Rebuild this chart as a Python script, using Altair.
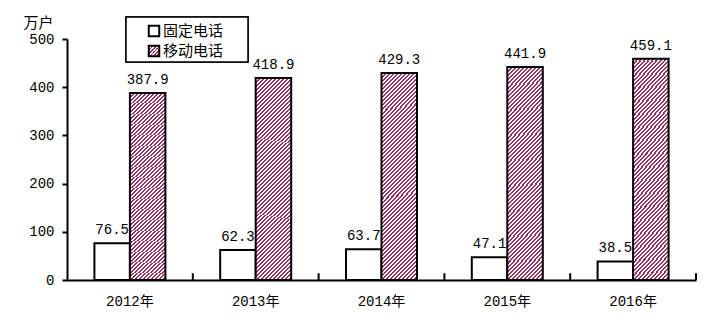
import altair as alt
import pandas as pd

years = ["2012年", "2013年", "2014年", "2015年", "2016年"]
series = ["固定电话", "移动电话"]
fixed_line = [76.5, 62.3, 63.7, 47.1, 38.5]
mobile = [387.9, 418.9, 429.3, 441.9, 459.1]
y_ticks = [0, 100, 200, 300, 400, 500]

rows = []
for i, yr in enumerate(years):
    rows.append({"year": yr, "series": series[0], "value": fixed_line[i]})
    rows.append({"year": yr, "series": series[1], "value": mobile[i]})
df = pd.DataFrame(rows)

PURPLE = "#993366"
W, H = 629, 241
NUM_FONT = "Liberation Mono, Noto Sans CJK SC"
CJK_FONT = "Noto Sans CJK SC"


def stripes(w, h, period=4.0):
    """Diagonal '/' hatch as a linear gradient in bounding-box units."""
    t = (w + h) / (w * w + h * h)
    n = int(round((w + h) / period))
    stops = []
    for i in range(n):
        a, m, b = i / n, (i + 0.5) / n, (i + 1) / n
        stops += [
            {"offset": a, "color": PURPLE},
            {"offset": m, "color": PURPLE},
            {"offset": m, "color": "white"},
            {"offset": b, "color": "white"},
        ]
    return {"gradient": "linear", "x1": 0, "y1": 0, "x2": w * t, "y2": h * t, "stops": stops}


bar_grad = stripes(35.5, 205)
sym_grad = stripes(11, 11)

x_enc = alt.X("year:O", sort=years, scale=alt.Scale(paddingInner=0, paddingOuter=0),
              axis=alt.Axis(title=None, labelAngle=0, ticks=False, tickSize=0, labelPadding=14,
                            labelFont=NUM_FONT, labelFontSize=14, labelColor="black",
                            domainColor="black", domainWidth=2))
xo_enc = alt.XOffset("series:N", scale=alt.Scale(domain=series, paddingInner=0, paddingOuter=0.772))
y_enc = alt.Y("value:Q", scale=alt.Scale(domain=[0, 500], nice=False),
              axis=alt.Axis(values=y_ticks, grid=False, title="万户", titleAngle=0, titleX=-44, titleY=-12,
                            titleAlign="left", titleBaseline="alphabetic", titleFont=CJK_FONT,
                            titleFontSize=15, titleFontWeight="normal", titleColor="black",
                            labelFont=NUM_FONT, labelFontSize=14, labelColor="black", labelPadding=8,
                            tickColor="black", tickWidth=2, tickSize=5,
                            domainColor="black", domainWidth=2))

base = alt.Chart(df).encode(x=x_enc, xOffset=xo_enc, y=y_enc)

bars_fixed = base.transform_filter(alt.datum.series == series[0]).mark_bar(
    fill="white", stroke="black", strokeWidth=2)
bars_mobile = base.transform_filter(alt.datum.series == series[1]).mark_bar(
    fill=bar_grad, stroke="black", strokeWidth=2)
labels = base.mark_text(dy=-9, baseline="alphabetic", font=NUM_FONT, fontSize=14, color="black").encode(
    text=alt.Text("value:Q", format=".1f"))

ticks = alt.Chart(pd.DataFrame({"year": years})).mark_rule(color="black", strokeWidth=2).encode(
    x=alt.X("year:O", sort=years, bandPosition=1),
    y=alt.datum(0), y2=alt.datum(14))

leg_df = pd.DataFrame({"series": series})
legend_box = alt.Chart(leg_df).mark_rect(fill="white", stroke="black", strokeWidth=1.5).encode(
    x=alt.value(59), x2=alt.value(181), y=alt.value(-22), y2=alt.value(23))
leg_sym1 = alt.Chart(leg_df).transform_filter(alt.datum.series == series[0]).mark_square(
    size=110, fill="white", stroke="black", strokeWidth=2, opacity=1).encode(
    x=alt.value(87), y=alt.value(-8))
leg_sym2 = alt.Chart(leg_df).transform_filter(alt.datum.series == series[1]).mark_square(
    size=110, fill=sym_grad, stroke="black", strokeWidth=2, opacity=1).encode(
    x=alt.value(87), y=alt.value(12))
leg_txt1 = alt.Chart(leg_df).transform_filter(alt.datum.series == series[0]).mark_text(
    align="left", baseline="middle", font=CJK_FONT, fontSize=15, color="black").encode(
    x=alt.value(96), y=alt.value(-8), text="series:N")
leg_txt2 = alt.Chart(leg_df).transform_filter(alt.datum.series == series[1]).mark_text(
    align="left", baseline="middle", font=CJK_FONT, fontSize=15, color="black").encode(
    x=alt.value(96), y=alt.value(12), text="series:N")

chart = alt.layer(
    bars_fixed, bars_mobile, labels, ticks,
    legend_box, leg_sym1, leg_sym2, leg_txt1, leg_txt2,
).properties(
    width=W, height=H,
    autosize=alt.AutoSizeParams(type="none"),
    padding={"left": 67, "top": 39, "right": 26, "bottom": 49},
    background="white",
).configure_view(stroke=None)

chart.save("out.html", embed_options={"renderer": "svg", "actions": False})
